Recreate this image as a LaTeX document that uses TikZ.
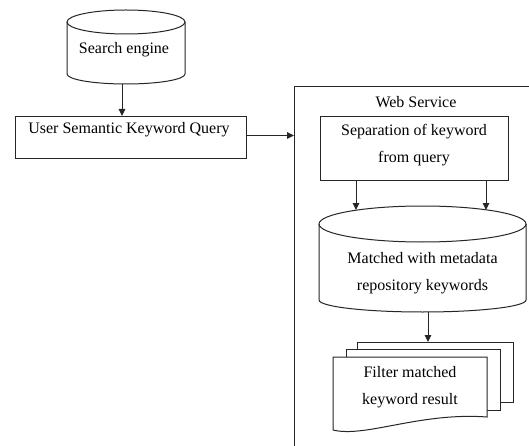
\documentclass[tikz,border=0pt]{standalone}
\usepackage{fontspec}
\setmainfont{Liberation Serif}
\usetikzlibrary{arrows.meta}
\begin{document}
\begin{tikzpicture}[x=1pt,y=-1pt,
  line/.style={draw=black!85, line width=1pt},
  arr/.style={line, -{Triangle[length=7pt,width=6.5pt]}},
  lbl/.style={font=\fontsize{16}{27}\selectfont, align=center, inner sep=0pt, text=black},
  box/.style={line, fill=white, inner sep=0pt, anchor=north west}]
\useasboundingbox[fill=white] (0,0) rectangle (529,446);
% Search engine cylinder
\draw[line] (67,22) -- (67,74) arc[start angle=180,end angle=0,x radius=59,y radius=10] -- (185,22);
\draw[line] (126,22) ellipse[x radius=59,y radius=12];
\node[lbl] (set) at (124,50) {Search engine};
\coordinate (seb) at (122,84);
% User query box
\node[box, minimum width=231, minimum height=42] (usk) at (15,116) {};
\node[lbl] (uskt) at (129,130) {User Semantic Keyword Query};
\draw[arr] (seb) -- (usk.north -| seb);
% Web service frame
\coordinate (wsl) at (294,87);
\draw[line] (529,87) -- (wsl) -- (294,446);
\node[lbl] (wst) at (416,102) {Web Service};
\draw[arr] ([yshift=2pt]usk.east) -- ([yshift=2pt]usk.east -| wsl);
% Separation box
\node[box, minimum width=188, minimum height=64] (sep) at (320,116) {};
\node[lbl] (sept) at (414,145) {Separation of keyword\\from query};
\coordinate (m1) at (356,210);
\coordinate (m2) at (486,210);
\draw[arr] (sep.south -| m1) -- (m1);
\draw[arr] (sep.south -| m2) -- (m2);
% Matched cylinder
\draw[line] (319,224) -- (319,300) arc[start angle=180,end angle=0,x radius=103.5,y radius=12] -- (526,224);
\draw[line] (422.5,224) ellipse[x radius=103.5,y radius=18];
\node[lbl] (mt) at (422.5,273) {Matched with metadata\\repository keywords};
\coordinate (mb) at (428,312);
% Multi-document
\node[box, minimum width=156, minimum height=60] (bk) at (357,342) {};
\node[box, minimum width=154, minimum height=61] (md) at (346,349) {};
\draw[line, fill=white] (333,430) -- (333,357) -- (487,357) -- (487,417)
  .. controls (420,412) and (365,438) .. (333,430) -- cycle;
\node[lbl] (fr) at (410,387) {Filter matched\\keyword result};
\draw[arr] (mb) -- (mb |- bk.north);
\end{tikzpicture}
\end{document}
